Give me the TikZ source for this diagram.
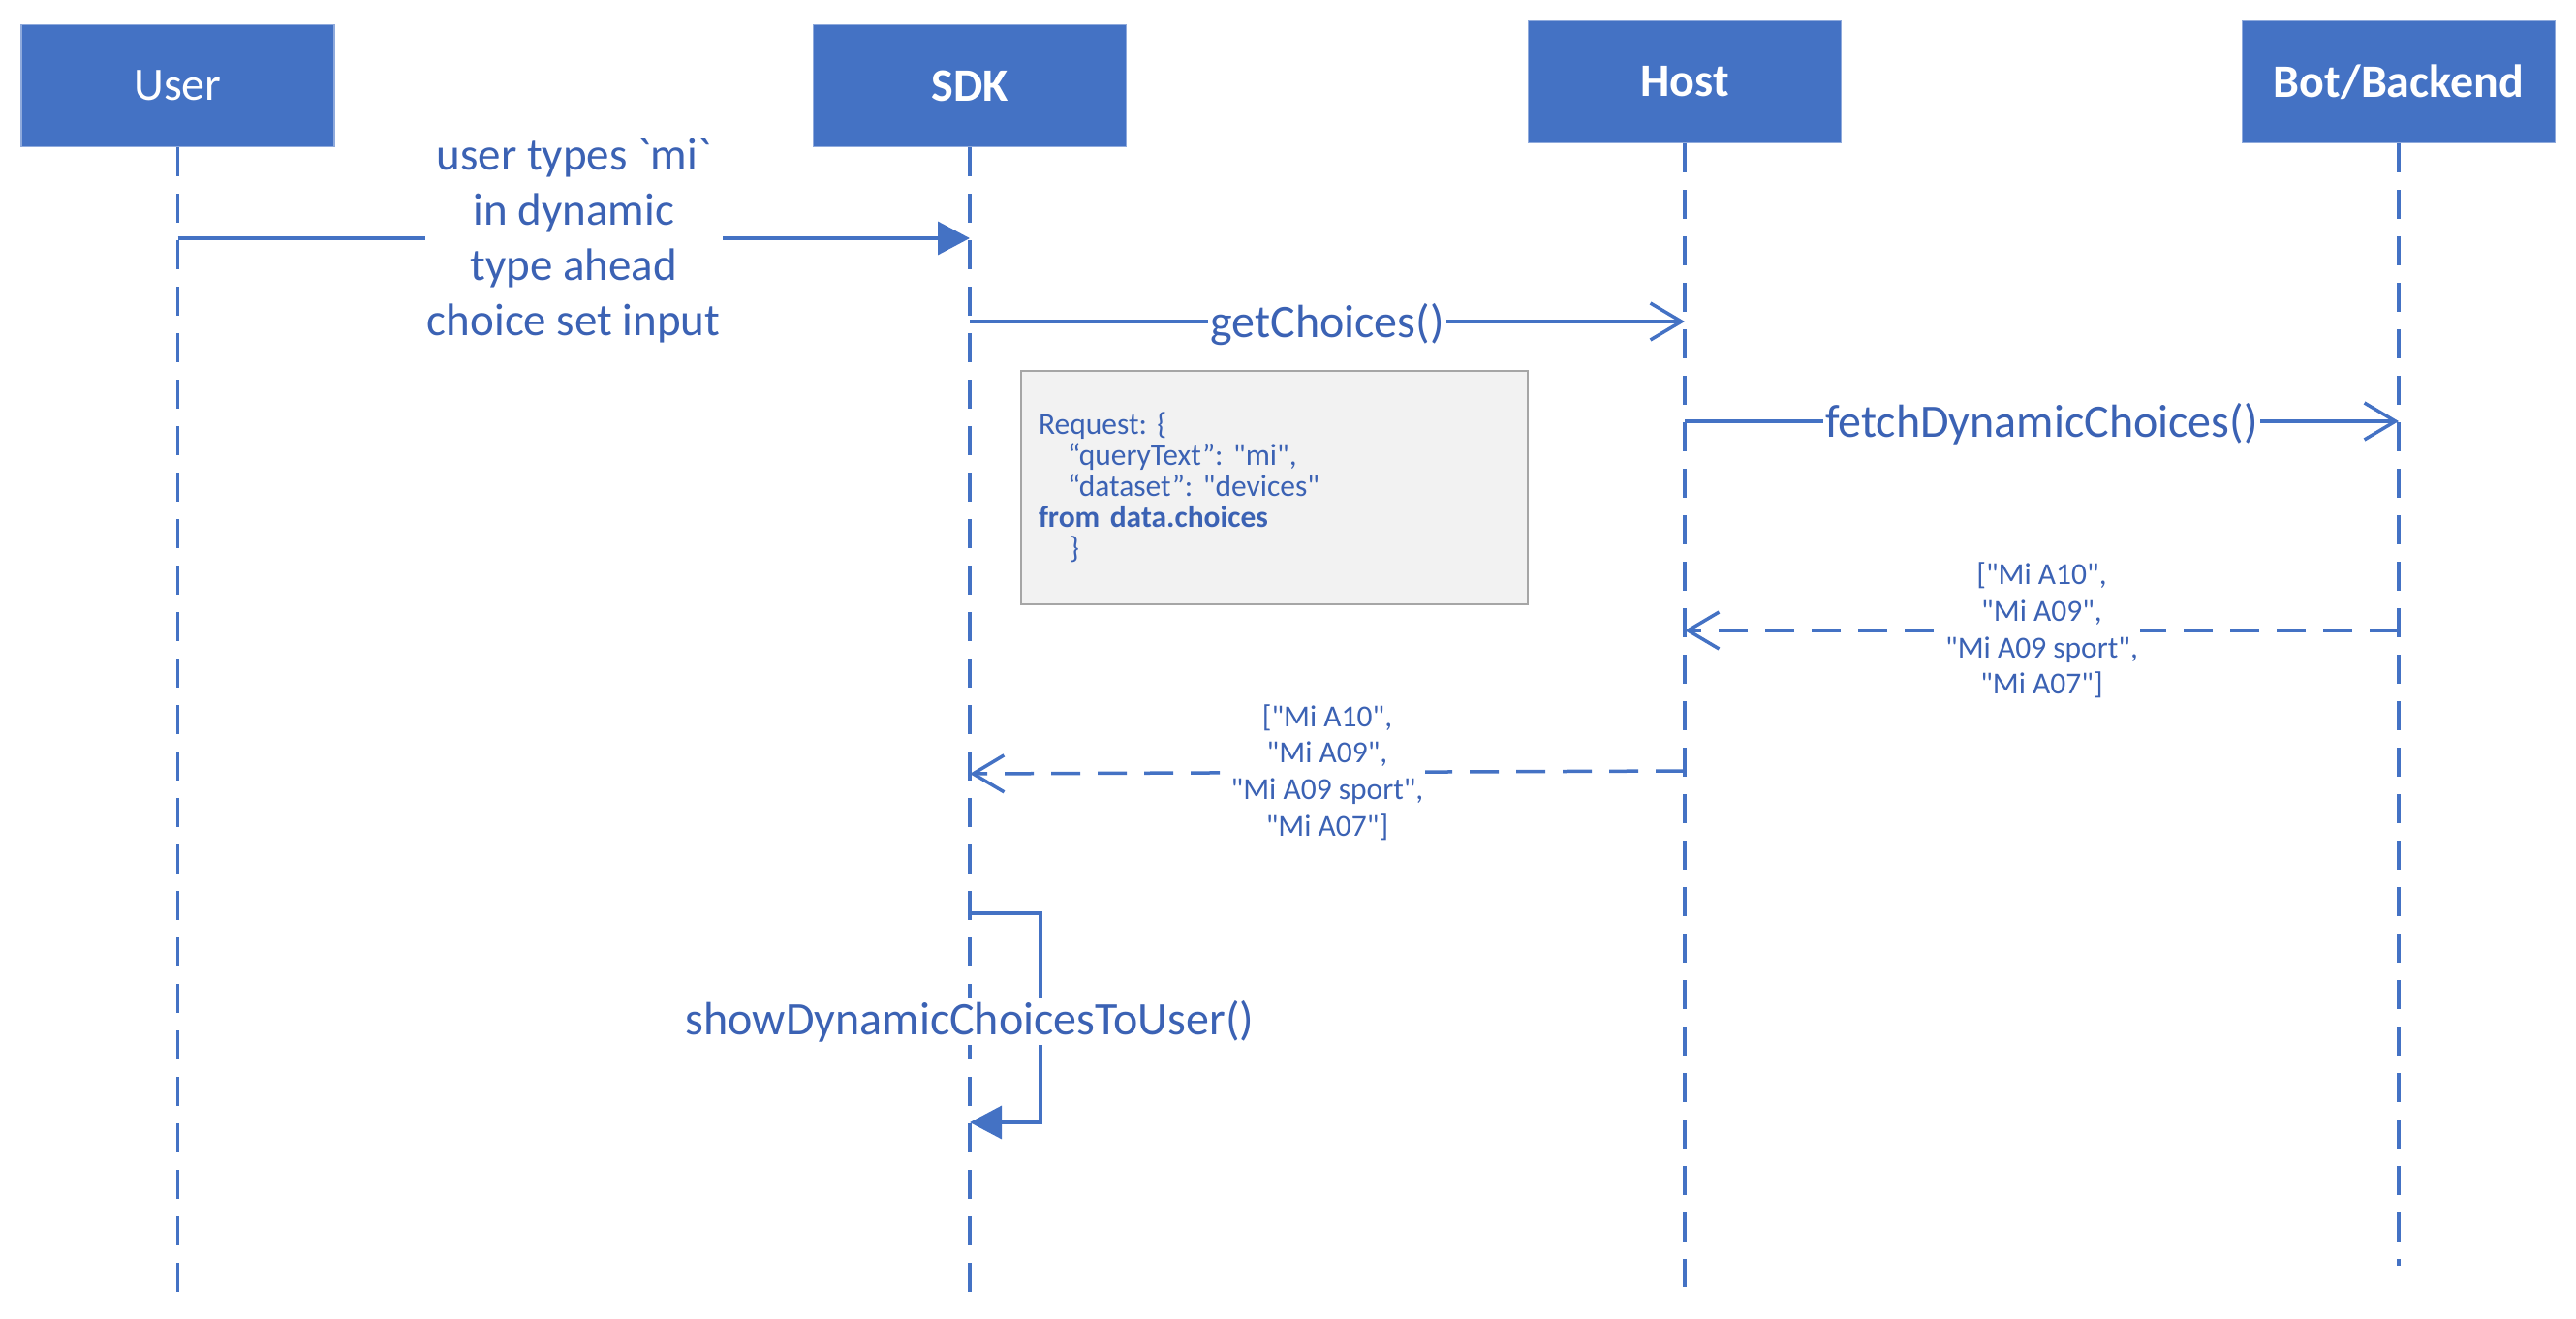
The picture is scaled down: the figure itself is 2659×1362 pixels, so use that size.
\documentclass[tikz,border=0pt]{standalone}
\usepackage{fontspec}
\setmainfont{Carlito}[Ligatures=TeXOff]
\usetikzlibrary{arrows.meta}
\definecolor{boxblue}{HTML}{4472C4}
\definecolor{boxedge}{HTML}{8FAADC}
\definecolor{lineblue}{HTML}{4472C4}
\definecolor{txtblue}{HTML}{3B62B4}
\definecolor{notefill}{HTML}{F2F2F2}
\definecolor{noteedge}{HTML}{A6A6A6}
\frenchspacing
\begin{document}
\begin{tikzpicture}[x=1bp,y=-1bp,
  actor/.style={draw=boxedge, line width=1.5bp, fill=boxblue, minimum width=323bp,
    minimum height=126bp, text=white, inner sep=0,
    font=\fontsize{48bp}{58bp}\selectfont},
  actorb/.style={actor, font=\fontsize{48bp}{58bp}\selectfont\bfseries},
  lifeline/.style={draw=lineblue, line width=3.5bp, dash pattern=on 30bp off 18bp},
  msg/.style={draw=lineblue, line width=3.5bp},
  ret/.style={msg, dash pattern=on 30bp off 18bp},
  filltip/.style={-{Triangle[length=33bp,width=34bp]}},
  opentip/.style={-{Straight Barb[length=32bp,width=38bp]}},
  biglbl/.style={text=txtblue, fill=white, inner xsep=2bp, inner ysep=3bp,
    font=\fontsize{48bp}{57bp}\selectfont\frenchspacing, align=center, yshift=-3bp},
  smalllbl/.style={text=txtblue, fill=white, inner xsep=2bp, inner ysep=0bp,
    font=\fontsize{31.5bp}{37.7bp}\selectfont\frenchspacing, align=center},
  note/.style={draw=noteedge, fill=notefill, line width=2bp, minimum width=523bp,
    minimum height=241bp, inner xsep=18bp, inner ysep=0bp, text width=487bp,
    align=left, text=txtblue, font=\fontsize{31.5bp}{32bp}\selectfont\frenchspacing},
]
\useasboundingbox (0,0) rectangle (2659,1362);

% actors
\node[actor]  (user) at (183.5,88.5) {User};
\node[actorb] (sdk)  at (1001,88.5)  {SDK};
\node[actorb] (host) at (1739,84.5)  {Host};
\node[actorb] (bot)  at (2476,84.5)  {Bot/Backend};

% lifelines
\coordinate (userEnd) at (183.5,1335);
\coordinate (sdkEnd)  at (1001,1335);
\coordinate (hostEnd) at (1739,1329);
\coordinate (botEnd)  at (2476,1307);
\draw[lifeline] (user.south) -- (userEnd);
\draw[lifeline] (sdk.south)  -- (sdkEnd);
\draw[lifeline] (host.south) -- (hostEnd);
\draw[lifeline] (bot.south)  -- (botEnd);

% message 1
\coordinate (m1a) at (183.5,246);
\coordinate (m1b) at (1001,246);
\draw[msg, filltip] (m1a) -- node[biglbl, font=\fontsize{47bp}{57bp}\selectfont\frenchspacing] (l1)
  {user types `mi`\\in dynamic\\type ahead\\choice set input} (m1b);

% message 2
\coordinate (m2a) at (1001,332);
\coordinate (m2b) at (1739,332);
\draw[msg, opentip] (m2a) -- node[biglbl] (l2) {getChoices()} (m2b);

% note
\node[note] (req) at (1315.5,503.5)
  {Request: \{\\
   \hspace*{30bp}“queryText”: "mi",\\
   \hspace*{30bp}“dataset”: "devices"\\
   \textbf{from data.choices}\\
   \hspace*{32bp}\}};

% message 3
\coordinate (m3a) at (1739,435);
\coordinate (m3b) at (2476,435);
\draw[msg, opentip] (m3a) -- node[biglbl] (l3) {fetchDynamicChoices()} (m3b);

% message 4 (return)
\coordinate (m4a) at (2476,651);
\coordinate (m4b) at (1739,651);
\draw[ret, opentip] (m4a) -- node[smalllbl] (l4)
  {["Mi A10",\\"Mi A09",\\"Mi A09 sport",\\"Mi A07"]} (m4b);

% message 5 (return)
\coordinate (m5a) at (1739,796);
\coordinate (m5b) at (1001,799);
\draw[ret, opentip] (m5a) -- node[smalllbl] (l5)
  {["Mi A10",\\"Mi A09",\\"Mi A09 sport",\\"Mi A07"]} (m5b);

% self message
\coordinate (s1) at (1001,943);
\coordinate (s2) at (1074,943);
\coordinate (s3) at (1074,1159);
\coordinate (s4) at (1001,1159);
\draw[msg, filltip] (s1) -- (s2) -- (s3) -- (s4);
\node[biglbl] (l6) at (1001,1052) {showDynamicChoicesToUser()};
\end{tikzpicture}
\end{document}
